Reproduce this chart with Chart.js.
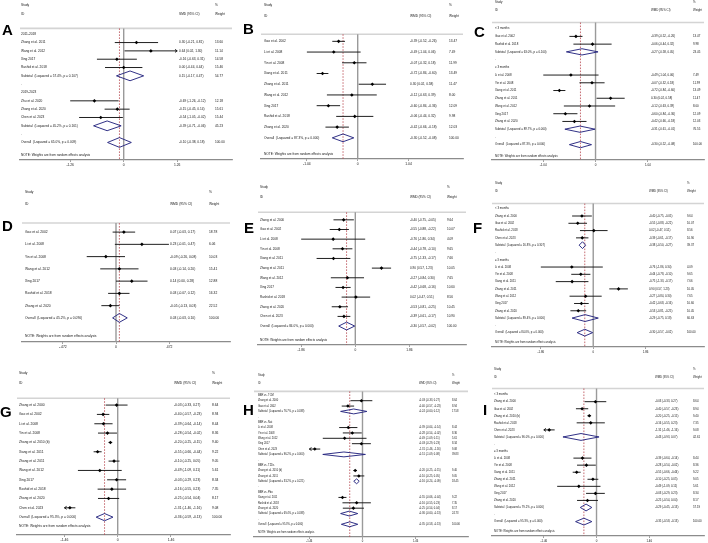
<!DOCTYPE html>
<html>
<head>
<meta charset="utf-8">
<script src="https://cdn.jsdelivr.net/npm/chart.js@4.4.1/dist/chart.umd.min.js"></script>
<style>
    html, body { margin: 0; padding: 0; background: #fff; }
    #fig { position: relative; width: 708px; height: 543px; overflow: hidden; }
    #fig canvas { position: absolute; }
</style>
</head>
<body>
<div id="fig"></div>
<script>
// ---- A: SMD by publication period
const aLabels = ['2011-2018', 'Zhang et al. 2011', 'Wang et al. 2012', 'Xing 2017', 'Rashid et al. 2018',
    'Subtotal  (I-squared = 57.4%, p = 0.107)', '.', '2019-2023', 'Zhu et al. 2020', 'Zhang et al. 2020',
    'Chen et al. 2023', 'Subtotal  (I-squared = 45.2%, p = 0.161)', '.', 'Overall  (I-squared = 65.0%, p = 0.009)'];
const aEs = [null, 0.30, 0.64, -0.16, 0.00, 0.15, null, null, -0.69, -0.15, -0.54, -0.39, null, -0.10];
const aLo = [null, -0.21, 0.02, -0.63, -0.44, -0.17, null, null, -1.26, -0.45, -1.05, -0.71, null, -0.38];
const aHi = [null, 0.81, 1.30, 0.31, 0.44, 0.47, null, null, -0.12, 0.14, -0.02, -0.06, null, 0.18];
const aWt = [null, 13.60, 11.14, 14.58, 15.46, 54.77, null, null, 12.18, 15.61, 15.44, 45.23, null, 100.00];
const aTicks = [-1.26, 0, 1.26];
const aTickText = ['-1.26', '0', '1.26'];

// ---- B
const bLabels = ['Gao et al. 2002', 'Li et al. 2008', 'Yin et al. 2008', 'Xiang et al. 2011', 'Zhang et al. 2011',
    'Wang et al. 2012', 'Xing 2017', 'Rashid et al. 2018', 'Zhang et al. 2020', 'Overall  (I-squared = 87.3%, p = 0.000)'];
const bEs = [-0.39, -0.49, -0.07, -0.72, 0.30, -0.12, -0.60, -0.06, -0.42, -0.30];
const bLo = [-0.52, -1.04, -0.32, -0.84, 0.02, -0.63, -0.84, -0.44, -0.66, -0.52];
const bHi = [-0.26, 0.06, 0.18, -0.60, 0.58, 0.39, -0.36, 0.32, -0.18, -0.08];
const bWt = [13.47, 7.49, 11.99, 13.49, 11.47, 8.00, 12.09, 9.98, 12.03, 100.00];
const bTicks = [-1.04, 0, 1.04];
const bTickText = ['-1.04', '0', '1.04'];

// ---- C
const cLabels = ['< 3 months', 'Gao et al. 2002', 'Rashid et al. 2018', 'Subtotal  (I-squared = 63.0%, p = 0.100)', '.',
    '≥ 3 months', 'Li et al. 2008', 'Yin et al. 2008', 'Xiang et al. 2011', 'Zhang et al. 2011', 'Wang et al. 2012',
    'Xing 2017', 'Zhang et al. 2020', 'Subtotal  (I-squared = 89.7%, p = 0.000)', '.', 'Overall  (I-squared = 87.3%, p = 0.000)'];
const cEs = [null, -0.39, -0.06, -0.27, null, null, -0.49, -0.07, -0.72, 0.30, -0.12, -0.60, -0.42, -0.31, null, -0.30];
const cLo = [null, -0.52, -0.44, -0.58, null, null, -1.04, -0.32, -0.84, 0.02, -0.63, -0.84, -0.66, -0.61, null, -0.52];
const cHi = [null, -0.26, 0.32, 0.05, null, null, 0.06, 0.18, -0.60, 0.58, 0.39, -0.36, -0.18, -0.01, null, -0.08];
const cWt = [null, 13.47, 9.98, 23.45, null, null, 7.49, 11.99, 13.49, 11.47, 8.00, 12.09, 12.03, 76.55, null, 100.00];
const cTicks = [-1.04, 0, 1.04];
const cTickText = ['-1.04', '0', '1.04'];

// ---- D
const dLabels = ['Gao et al. 2002', 'Li et al. 2008', 'Yin et al. 2008', 'Wang et al. 2012', 'Xing 2017',
    'Rashid et al. 2018', 'Zhang et al. 2020', 'Overall  (I-squared = 45.2%, p = 0.090)'];
const dEs = [0.07, 0.23, -0.09, 0.03, 0.14, 0.03, -0.05, 0.03];
const dLo = [-0.03, -0.01, -0.26, -0.14, 0.00, -0.07, -0.13, -0.03];
const dHi = [0.17, 0.47, 0.08, 0.20, 0.28, 0.12, 0.03, 0.10];
const dWt = [18.78, 6.06, 10.03, 15.41, 12.88, 16.32, 22.52, 100.00];
const dTicks = [-0.472, 0, 0.472];
const dTickText = ['-.472', '0', '.472'];

// ---- E
const eLabels = ['Zhang et al. 2000', 'Gao et al. 2002', 'Li et al. 2008', 'Yin et al. 2008', 'Xiang et al. 2011',
    'Zhang et al. 2011', 'Wang et al. 2012', 'Xing 2017', 'Rashid et al. 2018', 'Zhang et al. 2020', 'Chen et al. 2023',
    'Overall  (I-squared = 84.0%, p = 0.000)'];
const eEs = [-0.40, -0.55, -0.76, -0.44, -0.75, 0.90, -0.27, -0.42, 0.02, -0.53, -0.39, -0.30];
const eLo = [-0.75, -0.88, -1.86, -0.78, -1.33, 0.57, -0.84, -0.68, -0.47, -0.81, -0.61, -0.57];
const eHi = [-0.05, -0.22, 0.34, -0.10, -0.17, 1.23, 0.30, -0.16, 0.51, -0.25, -0.17, -0.02];
const eWt = [9.64, 10.07, 4.09, 9.65, 7.66, 10.05, 7.65, 10.60, 8.56, 10.45, 10.90, 100.00];
const eTicks = [-1.86, 0, 1.86];
const eTickText = ['-1.86', '0', '1.86'];

// ---- F
const fLabels = ['< 3 months', 'Zhang et al. 2000', 'Gao et al. 2002', 'Rashid et al. 2018', 'Chen et al. 2023',
    'Subtotal  (I-squared = 16.8%, p = 0.307)', '.', '≥ 3 months', 'Li et al. 2008', 'Yin et al. 2008', 'Xiang et al. 2011',
    'Zhang et al. 2011', 'Wang et al. 2012', 'Xing 2017', 'Zhang et al. 2020', 'Subtotal  (I-squared = 89.4%, p = 0.000)', '.',
    'Overall  (I-squared = 84.0%, p = 0.000)'];
const fEs = [null, -0.40, -0.55, 0.02, -0.39, -0.38, null, null, -0.76, -0.44, -0.75, 0.90, -0.27, -0.42, -0.53, -0.29, null, -0.30];
const fLo = [null, -0.75, -0.88, -0.47, -0.61, -0.50, null, null, -1.86, -0.78, -1.33, 0.57, -0.84, -0.68, -0.81, -0.75, null, -0.57];
const fHi = [null, -0.05, -0.22, 0.51, -0.17, -0.27, null, null, 0.34, -0.10, -0.17, 1.23, 0.30, -0.16, -0.25, 0.18, null, -0.02];
const fWt = [null, 9.64, 10.07, 8.56, 10.90, 39.37, null, null, 4.09, 9.65, 7.66, 10.05, 7.65, 10.60, 10.45, 60.63, null, 100.00];
const fTicks = [-1.86, 0, 1.86];
const fTickText = ['-1.86', '0', '1.86'];

// ---- G
const gLabels = ['Zhang et al. 2000', 'Gao et al. 2002', 'Li et al. 2008', 'Yin et al. 2008', 'Zhang et al. 2010 (b)',
    'Xiang et al. 2011', 'Zhang et al. 2011', 'Wang et al. 2012', 'Xing 2017', 'Rashid et al. 2018', 'Zhang et al. 2020',
    'Chen et al. 2023', 'Overall  (I-squared = 95.3%, p = 0.000)'];
const gEs = [-0.03, -0.40, -0.39, -0.28, -0.20, -0.55, -0.10, -0.49, -0.03, -0.16, -0.25, -1.31, -0.36];
const gLo = [-0.33, -0.57, -0.64, -0.54, -0.25, -0.66, -0.25, -1.09, -0.29, -0.55, -0.54, -1.464, -0.59];
const gHi = [0.27, -0.23, -0.14, -0.02, -0.15, -0.44, 0.05, 0.11, 0.23, 0.23, 0.04, -1.16, -0.13];
const gWt = [8.64, 8.94, 8.44, 8.36, 9.40, 9.22, 9.05, 5.61, 8.34, 7.35, 8.17, 9.08, 100.00];
const gTicks = [-1.46, 0, 1.46];
const gTickText = ['-1.46', '0', '1.46'];

// ---- H
const hLabels = ['BBR vs. TCM', 'Zhang et al. 2000', 'Gao et al. 2002', 'Subtotal  (I-squared = 76.7%, p = 0.038)', '.',
    'BBR vs. Nat', 'Li et al. 2008', 'Yin et al. 2008', 'Wang et al. 2012', 'Xing 2017', 'Chen et al. 2023',
    'Subtotal  (I-squared = 96.2%, p = 0.000)', '.', 'BBR vs. T2Ds', 'Zhang et al. 2010 (b)', 'Zhang et al. 2011',
    'Subtotal  (I-squared = 33.2%, p = 0.221)', '.', 'BBR vs. Pbo', 'Xiang et al. 2011', 'Rashid et al. 2018',
    'Zhang et al. 2020', 'Subtotal  (I-squared = 69.4%, p = 0.038)', '.', 'Overall  (I-squared = 95.3%, p = 0.000)'];
const hEs = [null, -0.03, -0.40, -0.24, null, null, -0.39, -0.28, -0.49, -0.03, -1.31, -0.51, null,
    null, -0.20, -0.10, -0.16, null, null, -0.55, -0.16, -0.25, -0.36, null, -0.35];
const hLo = [null, -0.33, -0.57, -0.60, null, null, -0.64, -0.54, -1.09, -0.29, -1.464, -1.09, null,
    null, -0.25, -0.25, -0.24, null, null, -0.66, -0.55, -0.54, -0.60, null, -0.58];
const hHi = [null, 0.27, -0.23, 0.12, null, null, -0.14, -0.02, 0.11, 0.23, -1.16, 0.08, null,
    null, -0.15, 0.05, -0.09, null, null, -0.44, 0.23, 0.04, -0.13, null, -0.13];
const hWt = [null, 8.64, 8.94, 17.58, null, null, 8.44, 8.36, 5.61, 8.34, 9.08, 39.83, null,
    null, 9.40, 9.05, 18.45, null, null, 9.22, 7.35, 8.17, 24.73, null, 100.00];
const hTicks = [-1.46, 0, 1.46];
const hTickText = ['-1.46', '0', '1.46'];

// ---- I
const iLabels = ['< 3 months', 'Zhang et al. 2000', 'Gao et al. 2002', 'Zhang et al. 2010 (b)', 'Rashid et al. 2018',
    'Chen et al. 2023', 'Subtotal  (I-squared = 96.0%, p = 0.000)', '.', '≥ 3 months', 'Li et al. 2008', 'Yin et al. 2008',
    'Xiang et al. 2011', 'Zhang et al. 2011', 'Wang et al. 2012', 'Xing 2017', 'Zhang et al. 2020',
    'Subtotal  (I-squared = 79.2%, p = 0.000)', '.', 'Overall  (I-squared = 95.3%, p = 0.000)'];
const iEs = [null, -0.03, -0.40, -0.20, -0.16, -1.31, -0.43, null, null, -0.39, -0.28, -0.55, -0.10, -0.49, -0.03, -0.25, -0.29, null, -0.35];
const iLo = [null, -0.33, -0.57, -0.25, -0.55, -1.464, -0.93, null, null, -0.64, -0.54, -0.66, -0.25, -1.09, -0.29, -0.54, -0.45, null, -0.58];
const iHi = [null, 0.27, -0.23, -0.15, 0.23, -1.16, 0.07, null, null, -0.14, -0.02, -0.44, 0.05, 0.11, 0.23, 0.04, -0.13, null, -0.13];
const iWt = [null, 8.64, 8.94, 9.40, 7.35, 9.08, 42.61, null, null, 8.44, 8.36, 9.22, 9.05, 5.61, 8.34, 8.17, 57.19, null, 100.00];
const iTicks = [-1.46, 0, 1.46];
const iTickText = ['-1.46', '0', '1.46'];

const FONT = '"Liberation Sans", Arial, sans-serif';
const W = 236, H = 181;

// layout of each panel, px inside its 236x181 box
const panels = [
    { tag: 'A', left: 0, top: 0, labels: aLabels, es: aEs, lo: aLo, hi: aHi, wt: aWt, ticks: aTicks, tickText: aTickText, head: 'SMD (95% CI)',
      axisL: 20, axisR: 232, axisY: 160, nullX: 123.7, ppu: 42.46, sepY: 25, row0: 31, step: 8.54,
      labelX: 21, esX: 179, wtX: 215, studyY: 5, idY: 14, noteY: 155, fs: 3.2, dh: 5, tagX: 2, tagY: 35 },
    { tag: 'B', left: 236, top: 0, labels: bLabels, es: bEs, lo: bLo, hi: bHi, wt: bWt, ticks: bTicks, tickText: bTickText, head: 'WMD (95% CI)',
      axisL: 25, axisR: 227, axisY: 159, nullX: 121.7, ppu: 48.87, sepY: 31, row0: 38.3, step: 11,
      labelX: 28, esX: 174, wtX: 213, studyY: 5, idY: 16, noteY: 154, fs: 3.2, dh: 4, tagX: 7, tagY: 34 },
    { tag: 'C', left: 472, top: 0, labels: cLabels, es: cEs, lo: cLo, hi: cHi, wt: cWt, ticks: cTicks, tickText: cTickText, head: 'WMD (95% CI)',
      axisL: 20, axisR: 235, axisY: 160, nullX: 125, ppu: 50.97, sepY: 19, row0: 25.3, step: 7.93,
      labelX: 23, esX: 179, wtX: 221, studyY: 2, idY: 10, noteY: 156, fs: 2.9, dh: 3.2, tagX: 2, tagY: 37 },
    { tag: 'D', left: 0, top: 181, labels: dLabels, es: dEs, lo: dLo, hi: dHi, wt: dWt, ticks: dTicks, tickText: dTickText, head: 'WMD (95% CI)',
      axisL: 22, axisR: 230, axisY: 161, nullX: 116, ppu: 112.6, sepY: 39, row0: 48.3, step: 12.57,
      labelX: 25, esX: 170, wtX: 209, studyY: 11, idY: 23, noteY: 155, fs: 3.3, dh: 4.5, tagX: 2, tagY: 50 },
    { tag: 'E', left: 236, top: 181, labels: eLabels, es: eEs, lo: eLo, hi: eHi, wt: eWt, ticks: eTicks, tickText: eTickText, head: 'WMD (95% CI)',
      axisL: 22, axisR: 230, axisY: 164, nullX: 119.3, ppu: 29.1, sepY: 28, row0: 35.7, step: 9.9,
      labelX: 24, esX: 174, wtX: 211, studyY: 6, idY: 16, noteY: 159, fs: 3.1, dh: 4, tagX: 8, tagY: 52 },
    { tag: 'F', left: 472, top: 181, labels: fLabels, es: fEs, lo: fLo, hi: fHi, wt: fWt, ticks: fTicks, tickText: fTickText, head: 'WMD (95% CI)',
      axisL: 20, axisR: 233, axisY: 166, nullX: 121.7, ppu: 28.3, sepY: 19, row0: 24.3, step: 7.47,
      labelX: 23, esX: 177, wtX: 215, studyY: 2, idY: 10, noteY: 161, fs: 2.8, dh: 3.5, tagX: 1, tagY: 52 },
    { tag: 'G', left: 0, top: 362, labels: gLabels, es: gEs, lo: gLo, hi: gHi, wt: gWt, ticks: gTicks, tickText: gTickText, head: 'WMD (95% CI)',
      axisL: 17, axisR: 230, axisY: 173, nullX: 117.7, ppu: 36.5, sepY: 33, row0: 40, step: 9.56,
      labelX: 19, esX: 174, wtX: 212, studyY: 11, idY: 21, noteY: 164, fs: 3.3, dh: 3.7, tagX: 0, tagY: 55 },
    { tag: 'H', left: 236, top: 362, labels: hLabels, es: hEs, lo: hLo, hi: hHi, wt: hWt, ticks: hTicks, tickText: hTickText, head: 'WMD (95% CI)',
      axisL: 18, axisR: 233, axisY: 175, nullX: 127, ppu: 36.6, sepY: 26, row0: 30, step: 5.5,
      labelX: 22, esX: 183, wtX: 216, studyY: 13, idY: 21, noteY: 170, fs: 2.6, dh: 2.5, tagX: 7, tagY: 53 },
    { tag: 'I', left: 472, top: 362, labels: iLabels, es: iEs, lo: iLo, hi: iHi, wt: iWt, ticks: iTicks, tickText: iTickText, head: 'WMD (95% CI)',
      axisL: 20, axisR: 235, axisY: 174, nullX: 126, ppu: 36.6, sepY: 23, row0: 29.3, step: 7.22,
      labelX: 22, esX: 183, wtX: 221, studyY: 7, idY: 15, noteY: 169, fs: 2.8, dh: 3.5, tagX: 11, tagY: 53 },
];

const f2 = v => v.toFixed(2);
const GAP = { x: null, y: null };

function forest(p) {
    let cv = document.createElement('canvas');
    cv.width = W; cv.height = H;
    cv.style.left = p.left + 'px'; cv.style.top = p.top + 'px';
    fig.appendChild(cv);

    let lim = p.ticks[p.ticks.length - 1];
    let xMin = (p.axisL - p.nullX) / p.ppu, xMax = (p.axisR - p.nullX) / p.ppu;
    let yMin = -p.row0 / p.step, yMax = (p.axisY - p.row0) / p.step;
    let ySep = (p.sepY - p.row0) / p.step;
    let ax = 2.2 / p.ppu, ay = 1.5 / p.step, dh = p.dh / p.step;

    let ci = [], pts = [], dia = [];
    p.es.forEach((v, i) => {
        if (v === null) return;
        if (/^(Subtotal|Overall)/.test(p.labels[i])) { // pooled diamond
            dia.push({ x: p.lo[i], y: i }, { x: v, y: i - dh }, { x: p.hi[i], y: i }, { x: v, y: i + dh }, { x: p.lo[i], y: i }, GAP);
            return;
        }
        ci.push({ x: Math.max(p.lo[i], -lim), y: i }, { x: Math.min(p.hi[i], lim), y: i }, GAP);
        // arrows where the CI runs off the axis
        if (p.lo[i] < -lim - 1e-3) ci.push({ x: -lim + ax, y: i - ay }, { x: -lim, y: i }, { x: -lim + ax, y: i + ay }, GAP);
        if (p.hi[i] > lim + 1e-3) ci.push({ x: lim - ax, y: i - ay }, { x: lim, y: i }, { x: lim - ax, y: i + ay }, GAP);
        pts.push({ x: v, y: i });
    });
    let overall = p.es[p.es.length - 1];

    const textPlugin = {
        id: 'forestText',
        afterDraw(chart) {
            let ctx = chart.ctx, ys = chart.scales.y;
            ctx.save();
            ctx.fillStyle = '#161616';
            ctx.textBaseline = 'middle';
            ctx.font = `${p.fs}px ${FONT}`;
            ctx.fillText('Study', p.labelX, p.studyY);
            ctx.fillText('ID', p.labelX, p.idY);
            ctx.fillText(p.head, p.esX, p.idY);
            ctx.fillText('%', p.wtX, p.studyY);
            ctx.fillText('Weight', p.wtX, p.idY);
            p.labels.forEach((s, i) => {
                let y = ys.getPixelForValue(i);
                ctx.fillText(s, p.labelX, y);
                if (p.es[i] === null) return;
                ctx.fillText(`${f2(p.es[i])} (${f2(p.lo[i])}, ${f2(p.hi[i])})`, p.esX, y);
                ctx.fillText(f2(p.wt[i]), p.wtX, y);
            });
            ctx.fillText('NOTE: Weights are from random effects analysis', p.labelX, p.noteY);
            // panel letter
            ctx.fillStyle = '#000';
            ctx.textBaseline = 'alphabetic';
            ctx.font = `bold 15px ${FONT}`;
            ctx.fillText(p.tag, p.tagX, p.tagY);
            ctx.restore();
        }
    };

    return new Chart(cv, {
        type: 'scatter',
        data: {
            datasets: [
                { type: 'line', data: pts, showLine: false, pointStyle: 'rectRot', pointRadius: 1.8,
                  pointBackgroundColor: '#000', pointBorderWidth: 0, order: 0 },
                { type: 'line', data: ci, borderColor: '#141414', borderWidth: 0.95, pointRadius: 0, order: 1 },
                { type: 'line', data: dia, borderColor: '#26267f', borderWidth: 0.95, pointRadius: 0, fill: false, order: 2 },
                { type: 'line', data: [{ x: overall, y: ySep }, { x: overall, y: yMax }], borderColor: '#b8474f',
                  borderWidth: 0.8, borderDash: [1.6, 1.4], pointRadius: 0, order: 3 },
                { type: 'line', data: [{ x: 0, y: ySep }, { x: 0, y: yMax }], borderColor: '#9a9a9a',
                  borderWidth: 1.4, pointRadius: 0, order: 4 },
                { type: 'line', data: [{ x: xMin, y: ySep }, { x: xMax, y: ySep }], borderColor: '#d4d4d4',
                  borderWidth: 1.6, pointRadius: 0, order: 5 },
            ]
        },
        options: {
            responsive: false, animation: false, events: [],
            layout: { padding: { left: p.axisL, right: W - p.axisR, top: 0, bottom: H - p.axisY - 10 } },
            plugins: { legend: { display: false }, tooltip: { enabled: false } },
            elements: { line: { tension: 0 } },
            scales: {
                x: {
                    type: 'linear', min: xMin, max: xMax,
                    afterBuildTicks: s => { s.ticks = p.ticks.map(value => ({ value })); },
                    afterFit: s => { s.height = 10; },
                    ticks: { autoSkip: false, maxRotation: 0, padding: 1, color: '#161616',
                        font: { size: p.fs + 0.1, family: FONT }, callback: (v, i) => p.tickText[i] },
                    grid: { drawOnChartArea: false, drawTicks: true, tickLength: 2, color: '#777', lineWidth: 0.7 },
                    border: { display: true, color: '#8c8c8c', width: 1.2 }
                },
                y: { type: 'linear', display: false, reverse: true, min: yMin, max: yMax }
            }
        },
        plugins: [textPlugin]
    });
}

panels.forEach(forest);
</script>
</body>
</html>
